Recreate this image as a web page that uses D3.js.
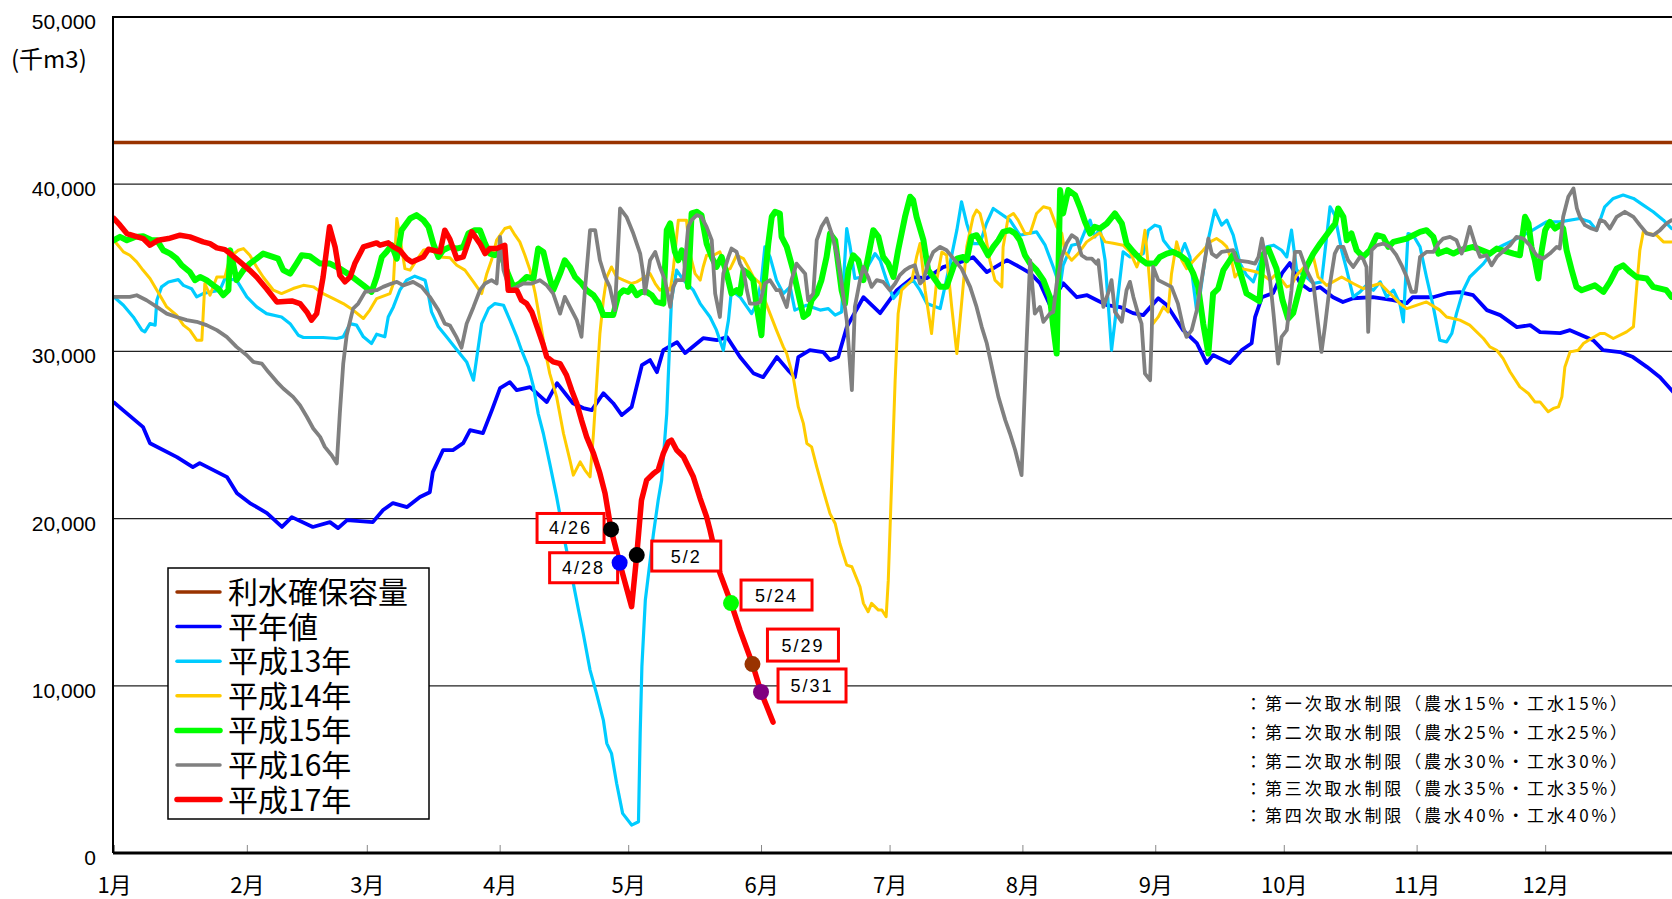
<!DOCTYPE html>
<html>
<head>
<meta charset="utf-8">
<script src="https://cdn.jsdelivr.net/npm/d3@7"></script>
<style>
	body { margin: 0; background: #fff; }
	svg { display: block; }
</style>
</head>
<body>
<svg id="chart" width="1672" height="899"></svg>
<script>
// storage volume (千m3), points are [day of year, value]
const capacity = 42500;

const normalData = [[0,26950],[2.1,26490],[6.8,25470],[8.4,24510],[14.7,23680],[18.4,23080],[20,23320],[26.4,22480],[28.7,21520],[31.7,20930],[35.7,20330],[39.2,19500],[41.5,20090],[46.4,19500],[50.4,19790],[52.3,19430],[54.4,19910],[60.4,19790],[62.8,20510],[65.1,20930],[68.4,20690],[71.4,21290],[73.7,21580],[74.4,22780],[76.8,24100],[79.1,24100],[81.5,24510],[83.1,25290],[86.1,25110],[88.2,26490],[90.1,27800],[92.4,28160],[94,27680],[97.1,27860],[101,26970],[103.4,28100],[107.1,26900],[109.5,26610],[111.5,26490],[114.2,27500],[116.5,26900],[118.5,26190],[120.8,26670],[123.2,29180],[125.1,29480],[126.7,28760],[128.2,30080],[131.4,30550],[133.3,29900],[137.5,30790],[140.7,30670],[143.1,30850],[146.1,29660],[149.2,28700],[151.5,28460],[154.7,29660],[157.3,28880],[158.9,28460],[159.7,29660],[162.4,30080],[165.5,29960],[167.1,29480],[169,29660],[171,31450],[174.9,33240],[178.8,32290],[182.7,33660],[186.5,34440],[189.7,34380],[193.5,35040],[199,35460],[200.5,35640],[203.7,34740],[208.4,35460],[211.4,35040],[213.8,34680],[216.1,34080],[218.4,32770],[221.5,34080],[224.7,33240],[227.1,33360],[229.4,33060],[231.7,32770],[234.8,32650],[237.8,32290],[240.2,32170],[243.7,33180],[245.7,32770],[249.5,31270],[252.7,30490],[255,29300],[256.5,29780],[260.4,29300],[263.2,30080],[265.5,30490],[266.3,32050],[267.9,33240],[270.5,33480],[272.6,34680],[274.4,35280],[276.8,34080],[279.1,33660],[281.5,33840],[284.5,33240],[286.8,32950],[289.2,33180],[293.8,33240],[298.5,33060],[301.7,32890],[303.1,33240],[307.8,33240],[311.1,33480],[314.1,33540],[317.2,33360],[320.4,32470],[323.5,32170],[327.4,31450],[330.5,31570],[332.8,31150],[337.5,31090],[339.8,31270],[345.2,30670],[347.5,30080],[351.5,29960],[354.5,29660],[357.8,29060],[360.8,28460],[363.1,27800],[364.5,27400]];

const h13Data = [[0,33260],[2.2,32760],[4.5,32060],[6.5,31270],[7.2,31170],[8.4,31660],[9.6,31570],[10,33060],[11.1,33860],[12.7,34150],[15,34290],[16.2,33950],[18.1,33750],[19.3,33260],[20.8,33460],[24.7,33660],[25.9,34360],[28.6,34260],[31,33260],[33.3,32660],[35.6,32260],[39.1,32060],[41.1,31660],[43,30970],[44.2,30830],[48.8,30830],[52,30770],[53.5,30870],[55.1,31660],[56.6,31570],[58.2,30870],[60.1,30470],[61.3,31030],[63.2,30870],[64,32060],[65.2,32660],[66.7,33660],[68.3,34260],[70.2,34500],[72.6,34260],[73.4,33360],[74.1,32360],[75.7,31470],[77.6,30870],[80.7,29870],[82.3,29370],[83.9,28280],[85.8,31660],[87.4,32560],[88.9,32860],[90.9,32760],[92.4,31870],[94,30870],[95.1,30070],[96.7,29070],[97.9,27880],[99,26280],[100.2,25090],[101.7,23290],[103.3,21300],[105.3,18520],[107.2,16110],[108.4,14530],[109.5,13140],[111.1,10940],[112.6,9550],[114.2,7950],[115,6560],[116.1,5960],[117.3,4170],[118.7,2370],[120.8,1670],[122.4,1870],[122.8,7170],[123.2,11160],[124,15130],[125.9,19110],[127,21100],[127.8,22300],[129,26280],[129.8,31270],[130.1,33060],[131.3,34860],[132.9,34260],[135.2,33660],[136.8,32860],[139.1,32060],[140.6,31270],[142.2,30070],[143.4,31870],[144.1,33660],[146.1,33260],[148.8,32260],[150,32860],[151.1,34260],[151.9,36250],[153.1,35650],[154.6,34260],[156.2,33460],[157.8,33860],[158.9,32470],[161.6,32760],[164.8,32470],[166.7,32560],[168.3,32170],[169.8,32360],[171,37350],[171.8,36250],[172.9,34360],[174.5,34450],[177.6,35850],[178.8,35450],[180.3,34260],[181.9,33160],[184.2,33860],[186.5,34260],[188.1,33660],[189.7,32860],[192.8,32560],[195.1,35250],[196.7,37250],[197.8,38950],[199,37650],[200.5,36450],[202.1,36450],[203.6,37650],[205.2,38550],[209.1,37850],[211.4,36950],[215.3,37150],[217.3,36350],[219.2,35050],[220.8,33860],[221.5,35150],[223.5,36350],[225.4,36450],[227,37450],[227.8,37850],[228.9,36850],[230.1,37350],[231.3,35450],[232.8,30070],[234,32660],[235.5,35950],[237.1,35650],[240.2,35850],[241.4,37250],[242.9,37550],[244.1,37450],[244.9,36650],[246.4,36150],[248.8,35750],[249.9,36450],[251.1,35650],[252.7,32360],[253.4,33260],[255,36250],[256.9,38450],[258.5,37550],[259.7,37850],[261.2,36950],[262.8,35250],[264.3,34560],[265.9,34160],[267.5,35350],[269,36250],[270.6,36350],[272.5,36050],[273.7,35650],[274.8,37250],[276,34860],[278.3,34450],[279.9,34060],[281.8,34160],[283.8,38650],[284.9,38150],[286.5,36050],[287.7,34860],[289.2,33260],[290.8,33560],[292.3,33960],[293.9,33660],[295.5,34160],[297,33260],[298.6,33660],[300.1,32860],[300.9,31770],[302,37050],[303.2,36950],[304.8,36250],[306.3,34450],[307.9,32660],[309.4,30670],[311,30570],[312.2,31070],[313.3,32260],[314.9,33660],[316.4,34450],[319.6,35250],[321.9,36050],[324.2,36350],[326.6,36650],[330.4,37150],[334.3,37750],[337.4,37750],[342.1,37950],[344.4,37750],[346,37250],[347.9,38650],[349.9,39150],[352.2,39350],[354.6,39150],[356.9,38750],[359.2,38350],[361.6,37850],[363.5,37350]];

const h14Data = [[0,36650],[0.6,36450],[2.2,35950],[3.7,35750],[5.3,35350],[6.8,34850],[8.4,34360],[10.7,33360],[12.3,32660],[14.6,32170],[16.2,31570],[17.7,31270],[19.3,30670],[20.5,30670],[21.2,34060],[22.4,33360],[24,34450],[25.9,34450],[27.1,35650],[29,36050],[30.2,36150],[31.7,35750],[33.3,35050],[34.8,34450],[37.2,33660],[39.1,33460],[41.8,33760],[44.2,33950],[46.5,33860],[48.8,33460],[51.2,33160],[53.5,32860],[55.8,32470],[58.2,31970],[59.7,32470],[61.3,33160],[64.4,33460],[65.2,34060],[66,37950],[66.7,36850],[67.9,34950],[69.1,34860],[70.6,35450],[72.2,36050],[73.7,36150],[76.1,35650],[78.4,35600],[80,35150],[81.9,34860],[83.9,34160],[85.8,33460],[87,34650],[88.1,35450],[89.3,36650],[91.2,37350],[92.4,37450],[93.6,36950],[94.7,36550],[95.9,35750],[97.1,34860],[98.3,33460],[99.4,31870],[100.6,30070],[101.7,28670],[103.3,27280],[104.9,25090],[106.4,23500],[107.2,22600],[108.8,23390],[109.9,22900],[111.1,22500],[111.9,25090],[112.7,28280],[113.4,31070],[114.2,33060],[115,34450],[116.1,35050],[117.3,34450],[118.9,34260],[120.8,34060],[122,34160],[123.9,34450],[125.1,34650],[126.3,34060],[127.4,33660],[128.6,33860],[129.8,33660],[130.5,34860],[131.7,37850],[133.6,37850],[134.4,35850],[135.6,34650],[136.8,34260],[137.5,35050],[138.3,35750],[139.9,35750],[141.4,35950],[143,34860],[143.8,34950],[145.3,35750],[146.9,35550],[148,35050],[149.2,34450],[150.8,34060],[151.9,33060],[153.1,32260],[154.6,31270],[156.2,30270],[157,29870],[158.5,28480],[159.7,26680],[160.9,25680],[161.7,24490],[162.8,24290],[164,23090],[165.5,21700],[167.1,20300],[168.3,19710],[169.4,18510],[171,17220],[172.2,17120],[174.1,15920],[174.9,14930],[176,14430],[176.8,14930],[178.4,14530],[179.2,14530],[180.2,14130],[180.7,16320],[181.5,22300],[182.3,28280],[183,32260],[183.8,33660],[185.4,34060],[186.2,34260],[187.3,35650],[188.1,36450],[189.3,33660],[190.8,31070],[192,34260],[193.2,35950],[194.3,35750],[195.5,32660],[196.7,29870],[197.8,32860],[199,36250],[200.5,38050],[201.3,38450],[202.1,38250],[203.3,37050],[204.4,35450],[205.6,34260],[207.2,33860],[207.5,36250],[208.7,38050],[209.9,38250],[211,37850],[212.6,37050],[213.8,37050],[215.3,38250],[216.9,38650],[218.4,38550],[220,37450],[221.2,37050],[221.9,35950],[223.5,35450],[225,35850],[227,36550],[230.1,37100],[231.3,36550],[233.2,36470],[235.5,36350],[237.1,35950],[238.7,35050],[239.8,35850],[240.6,37250],[241.4,35050],[242.5,31660],[243.7,32060],[244.9,32660],[246,32360],[246.8,34650],[248,36550],[249.2,35450],[250.3,34950],[252.7,35650],[254.2,36050],[255.8,36550],[257.3,36750],[258.5,36550],[259.7,36250],[260.8,35450],[261.6,34450],[263.2,34950],[266.7,34750],[268.2,34560],[269.8,34260],[270.9,34560],[272.5,34260],[273.7,33860],[274.8,33950],[276,34560],[279.9,35650],[281,34450],[283,33950],[286.5,34450],[289.2,34060],[291.5,33760],[295.5,34060],[297.8,33460],[300.1,32860],[301.7,32560],[306.3,32960],[309.4,32470],[311,32060],[314.1,31870],[316.4,31570],[319.6,30770],[321.1,30270],[322.7,30070],[324.2,29570],[325.8,28780],[328.1,27880],[330.1,27480],[331.6,26980],[332.8,26980],[334.7,26390],[335.9,26590],[337.1,26680],[337.9,27280],[338.6,29070],[339.8,29970],[341.7,30070],[342.9,30470],[344.8,30770],[346.8,31070],[347.9,31070],[349.9,30770],[353,31170],[354.6,31470],[355.3,33660],[356.1,36050],[356.9,37150],[360,36950],[361.6,36550],[363.5,36550]];

const h15Data = [[0,36650],[1.4,36850],[3,36650],[4.9,36850],[6.8,36890],[8.8,36650],[10,36650],[11.5,36050],[13.1,35850],[14.6,35550],[15.8,35150],[17.7,34750],[18.9,34260],[20.1,34450],[21.6,34260],[23.2,33950],[24.3,33750],[25.5,33360],[26.7,33660],[27.1,36050],[27.8,35250],[28.6,34260],[30.2,34860],[31.7,35250],[33.3,35550],[34.8,35850],[38.3,35550],[39.5,34860],[41.1,34650],[42.6,35250],[43.8,35750],[45.7,35690],[48.1,35250],[50.4,35250],[52.7,34950],[55.1,34560],[56.6,34260],[58.2,33950],[60.1,33560],[61.3,34450],[62.5,35650],[63.6,35950],[64.8,36350],[66,35550],[67.1,37250],[69.1,37950],[70.6,38150],[72.2,37850],[73.4,37450],[74.5,36450],[75.7,35650],[76.8,36050],[78.4,36250],[80,36150],[81.5,36250],[82.7,37050],[84.2,37250],[85.4,37250],[86.6,36450],[87.7,35850],[88.9,35750],[90.1,35950],[91.6,34860],[93.2,33860],[94.7,34060],[96.3,34450],[97.9,34360],[99,36150],[100.2,35950],[101.4,34650],[102.5,33660],[104.1,34650],[105.2,35450],[106.4,35050],[107.6,34450],[109.1,34060],[110.3,33660],[111.9,33360],[113,32960],[114.2,32170],[116.5,32170],[117.7,33360],[118.9,33660],[120,33560],[120.8,33860],[122,33360],[123.1,33560],[124.3,33560],[125.5,33360],[126.6,32960],[128.2,32860],[129,37250],[129.8,37650],[130.9,35950],[131.7,35450],[132.5,36050],[133.3,35450],[134,33860],[134.8,38250],[136,38350],[137.1,38150],[138.3,36450],[139.5,35650],[140.6,35050],[141.8,35650],[143,34650],[144.1,33460],[145.3,33660],[146.1,33460],[146.9,34860],[148,34650],[149.2,34260],[150,32660],[151.1,30970],[151.9,34260],[152.7,36450],[153.5,38050],[154.3,38350],[155.4,38250],[155.8,36850],[157,36250],[158.5,34860],[159.7,33460],[160.9,32060],[162,32260],[162.8,33060],[164,33460],[165.1,34260],[166.3,35650],[167.1,37050],[168.3,36650],[169,35250],[169.8,33660],[170.6,32860],[171.4,34860],[172.5,35750],[173.7,35450],[174.9,34260],[176,35650],[177.2,37250],[178.4,36850],[179.5,35650],[180.7,35250],[181.9,34450],[183,36050],[184.6,38050],[185.8,39250],[186.5,39050],[187.3,38050],[188.9,36650],[190,34860],[191.2,34450],[192.8,33860],[194.3,33860],[195.9,35050],[196.7,35550],[198.2,35650],[199,35450],[200.1,36850],[201.3,36950],[202.5,36450],[204,35750],[205.2,36250],[206.4,36650],[207.5,37150],[209.1,37250],[210.3,37050],[211.4,36650],[212.6,35750],[213.8,35250],[215.3,34860],[216.9,34260],[218.4,33260],[219.2,31470],[220,29870],[220.8,39650],[221.5,38250],[222.7,39650],[224.3,39350],[225.4,38650],[226.6,37750],[227.8,37050],[228.9,37450],[230.1,37350],[231.7,37650],[233.6,38250],[235.2,37650],[236.3,36450],[237.9,35950],[239.4,35550],[241,35250],[242.9,35250],[244.1,35650],[245.7,35850],[247.2,35950],[248.8,35750],[250.3,35450],[251.9,34650],[253,33860],[254.2,31660],[255.4,29870],[256.5,33460],[257.7,33760],[258.9,34860],[260.4,35450],[261.4,35850],[262.8,34760],[264.3,33460],[267.3,33000],[268.2,35800],[269.4,36150],[271.3,34950],[272.7,33060],[274,31960],[275.2,32300],[276.8,33900],[278.3,35050],[279.9,35850],[281.5,36450],[283.8,37250],[285,37650],[285.7,38550],[286.9,38050],[287.7,36650],[288.8,37050],[290,36050],[291.5,35650],[293.1,36050],[294.7,36950],[296.2,36850],[297.4,36250],[298.6,36550],[301.7,36750],[304.8,37150],[306.3,37250],[307.9,36850],[309.1,35850],[311,36050],[312.6,35850],[314.1,36050],[317.2,36250],[321.1,35850],[322.7,36150],[326.6,35850],[328.1,35750],[329.3,38050],[330.1,37650],[330.8,36250],[331.6,35450],[332.4,34360],[333.2,36050],[334,37250],[335.1,37750],[336.3,37350],[337.5,37550],[338.2,37350],[339,36050],[340.2,34860],[341.3,33860],[342.5,33660],[345.6,33950],[347.6,33560],[349.1,34160],[350.7,34950],[352.2,35150],[353.8,34750],[355.3,34450],[357.7,34360],[359.2,33860],[362.3,33660],[363.5,33260]];

const h16Data = [[0,33260],[3.7,33260],[5.3,33360],[7.6,33060],[10,32660],[12.3,32260],[14.6,32060],[17,31870],[19.3,31770],[21.6,31570],[24,31270],[26.3,30870],[28.6,30270],[31,29770],[32.5,29370],[34.5,29270],[36,28780],[38,28180],[39.5,27780],[41.8,27280],[43.4,26780],[45,26090],[46.5,25390],[48.1,24890],[49.2,24290],[50.8,23790],[52,23300],[52.7,26280],[53.5,29270],[54.3,30970],[55.8,32560],[57,32860],[58.6,33560],[61.3,33660],[62.8,33860],[64.8,34060],[66,34160],[67.5,33950],[69.8,34160],[71.8,33860],[73.7,33260],[75.7,32470],[77.2,31660],[78.4,31550],[80,30820],[81.1,30220],[82.3,31660],[83.9,32660],[85.4,33660],[86.6,34060],[88.1,34260],[89.3,34060],[90.1,36850],[90.9,34860],[92.4,33660],[94,33860],[95.5,34060],[97.5,34060],[99.4,34260],[101,33950],[102.5,33460],[104.1,32260],[105.2,33260],[106.4,32660],[108,31870],[109.1,30870],[109.9,33660],[111.1,37250],[112.3,37250],[113.4,35450],[114.6,34450],[115.7,33860],[116.9,32470],[118.1,38550],[119.6,38050],[121.2,37050],[122.8,35850],[123.5,34650],[123.9,33460],[125.1,35450],[126.3,35950],[127.4,35050],[128.6,34260],[129.8,32660],[130.5,33860],[131.3,34260],[132.9,34260],[134,37450],[134.8,37850],[136,38150],[137.1,38050],[138.3,37450],[139.5,36650],[140.3,33460],[141.4,32060],[142.2,34650],[143.4,35650],[144.1,36150],[145.3,35950],[146.1,35250],[146.9,34860],[147.7,33660],[148.4,32860],[150,32860],[150.8,32960],[151.9,34060],[153.1,34260],[154.6,33660],[155.4,33660],[157,32660],[158.1,34260],[159.3,35250],[161.3,34650],[162,33060],[163.2,33460],[164,36650],[165.1,37450],[166.3,37950],[167.5,37050],[168.7,35850],[169.8,34060],[171,31870],[172.2,27680],[172.9,32660],[174.1,34260],[174.9,35050],[176,34450],[176.8,33860],[178,34260],[179.5,34160],[181.1,33660],[182.3,34060],[183.4,34560],[184.6,34860],[185.8,35050],[186.9,35150],[188.1,34060],[188.9,34260],[190,35250],[191.2,35950],[192.8,36250],[194.3,36050],[195.9,35550],[197.8,34950],[199.8,33860],[201.3,32660],[202.5,31470],[203.7,30470],[205.2,28670],[206.4,27280],[208,25890],[209.1,25090],[210.3,24100],[211.8,22600],[213,30670],[213.8,35450],[214.9,32260],[216.1,32660],[216.9,31770],[218.4,32260],[219.2,32360],[220,34060],[221.2,35650],[222.3,36450],[223.5,36950],[224.7,36750],[225.8,35750],[227,35550],[228.2,35550],[229.3,35250],[229.7,35450],[230.9,32660],[232.1,33560],[232.8,34260],[233.6,32360],[235.2,31770],[236.3,33660],[237.1,34160],[237.9,33260],[239,32260],[239.8,31660],[240.6,28670],[241.8,28280],[242.2,31270],[242.5,35050],[243.7,34260],[246.8,33860],[248.3,32860],[249.5,31470],[250.3,30870],[251.5,31270],[252.7,32470],[253.8,34260],[255.4,36750],[256.2,35850],[257.3,35650],[258.5,35950],[261.2,36050],[262,35450],[264.7,35350],[266.3,35250],[267.1,35650],[267.9,36750],[268.7,35650],[269.8,34260],[270.6,32260],[271.7,29270],[272.5,30870],[273.7,31270],[274.8,33660],[275.6,35950],[276.8,35950],[278.3,34860],[279.9,34060],[281,31660],[281.8,29970],[282.6,31470],[283.8,34060],[284.9,35850],[285.7,36250],[286.9,36250],[288,35450],[289.2,35050],[290.8,35650],[291.5,35550],[292.3,35050],[292.7,31170],[293.5,36050],[294.7,36350],[296.2,36450],[297.8,36250],[299.3,35750],[300.5,35150],[301.7,34450],[302.8,33560],[303.8,33560],[304.8,35650],[306.3,35950],[307.9,35950],[309.1,36450],[310.2,36750],[311.8,36850],[313.3,36650],[314.5,35850],[315.3,36350],[316.4,37450],[317.6,36450],[318.8,35650],[320.3,35750],[321.5,35150],[322.7,35650],[325.8,36350],[327.3,36850],[328.9,36750],[330.4,36350],[332,35750],[333.5,35550],[335.1,35850],[336.7,36250],[337.4,36150],[338.2,38050],[339.4,39250],[340.6,39750],[341.4,38550],[342.1,38050],[343.3,37550],[344.8,37350],[346,37250],[346.8,37850],[347.9,37750],[349.1,37350],[350.7,38050],[352.6,38350],[354.6,38050],[356.1,37550],[357.7,37050],[359.2,36950],[360.8,37250],[362.3,37650],[363.5,37850]];

const h17Data = [[0,37950],[1.4,37550],[3,37050],[6.8,36750],[8.4,36350],[10.3,36650],[12.7,36750],[15.4,36950],[17.7,36850],[20.8,36550],[22.4,36450],[24,36190],[25.9,36090],[27.1,35850],[29.4,35350],[31.7,34850],[33.3,34450],[35.6,33750],[38,32960],[41.5,33020],[43.4,32860],[45,32360],[46.1,31870],[47.3,32260],[48.8,34450],[50.3,37450],[51.6,36250],[52.7,34550],[53.9,34160],[55.1,34450],[56.2,35250],[58.2,36250],[61.3,36490],[62.1,36350],[64,36490],[65.2,36250],[66.7,36050],[68.3,35550],[69.5,35350],[72.2,35650],[73.4,36110],[76.1,35950],[77.2,37250],[78.4,36700],[80,35550],[81.5,35650],[83.5,37150],[85.4,36450],[86.6,35850],[87.7,36150],[89.3,36150],[91.2,36350],[92,33660],[94,33660],[95.1,33060],[96.3,32860],[97.5,32360],[99,31270],[100.2,30370],[101,29670],[102.5,29370],[104.1,29270],[105.6,28580],[106.8,27680],[108,26890],[109.1,25890],[110.3,24890],[111.9,23900],[113.4,22700],[114.6,21510],[116,19350],[118,17360],[120.8,14730],[122,17820],[123.1,21100],[124.3,22300],[125.9,22700],[127,22900],[128.2,23900],[129.4,24590],[130.1,24690],[131.3,24100],[132.9,23700],[135.2,22500],[136.8,21200],[138.3,20100],[139.1,19310],[141.4,16740],[144,14950],[146.1,13330],[149,11300],[151,9630],[153.8,7830]];

// restriction dates on the 平成17年 line: [label, day, value]
const markers = [["4/26",116,19350],["4/28",118,17360],["5/2",122,17820],["5/24",144,14950],["5/29",149,11300],["5/31",151,9630]];
const markerColors = ["#000000","#0000ff","#000000","#00ff00","#993300","#800080"];
// label box placement relative to the dot: [dx, dy, width, height]
const markerBoxes = [[-74,-16,67,29],[-70,-10,68,30],[15,-14,69,30],[10,-23,71,30],[15,-35,71,32],[17,-23,68,33]];

const monthDays = [0,31,59,90,120,151,181,212,243,273,304,334];
const monthLabels = ["1月","2月","3月","4月","5月","6月","7月","8月","9月","10月","11月","12月"];
const yTicks = [0,10000,20000,30000,40000,50000];
const gridTicks = [10000,20000,30000,40000];

const legendNames = ["利水確保容量","平年値","平成13年","平成14年","平成15年","平成16年","平成17年"];
const notes = [
	"：第一次取水制限（農水15%・工水15%）",
	"：第二次取水制限（農水25%・工水25%）",
	"：第二次取水制限（農水30%・工水30%）",
	"：第三次取水制限（農水35%・工水35%）",
	"：第四次取水制限（農水40%・工水40%）"
];

const colors = ["#993300","#0000ff","#00ccff","#ffcc00","#00ff00","#808080","#ff0000"];
const widths = [3.5,3.8,3.2,3,6,3.8,5.5];

const W = 1672, H = 899;
const plotLeft = 113, plotTop = 17, plotBottom = 853;
const latin = "'Liberation Sans', Arial, sans-serif";
const cjk = "'Noto Sans CJK JP', 'Noto Sans', sans-serif";

const svg = d3.select("#chart");
svg.append("rect").attr("width", W).attr("height", H).attr("fill", "#fff");

const x = d3.scaleLinear().domain([0, 365]).range([114, 1678]);
const y = d3.scaleLinear().domain([0, 50000]).range([plotBottom, plotTop]);

// gridlines
svg.append("g")
	.selectAll("line")
	.data(gridTicks)
	.join("line")
	.attr("x1", plotLeft).attr("x2", W)
	.attr("y1", d => y(d)).attr("y2", d => y(d))
	.attr("stroke", "#222").attr("stroke-width", 1.2);

svg.append("line")
	.attr("x1", plotLeft).attr("x2", W)
	.attr("y1", y(50000)).attr("y2", y(50000))
	.attr("stroke", "#000").attr("stroke-width", 2);

// y axis labels
const yAxis = svg.append("g")
	.attr("transform", `translate(${plotLeft},0)`)
	.call(d3.axisLeft(y).tickValues(yTicks).tickFormat(d3.format(",")).tickSize(0).tickPadding(17));
yAxis.select(".domain").remove();
yAxis.selectAll("text")
	.attr("dy", "0.55em")
	.style("font-family", latin)
	.style("font-size", "21px")
	.attr("fill", "#000");

svg.append("text")
	.attr("x", 11).attr("y", 68)
	.style("font-family", cjk)
	.style("font-size", "24px")
	.text("(千m3)");

// x axis
const xAxis = svg.append("g")
	.attr("transform", `translate(0,${plotBottom})`)
	.call(d3.axisBottom(x).tickValues(monthDays).tickFormat((d, i) => monthLabels[i]).tickSize(-8).tickPadding(0));
xAxis.select(".domain").remove();
xAxis.selectAll(".tick line").attr("stroke", "#888");
xAxis.selectAll("text")
	.attr("y", 40).attr("dy", 0)
	.style("font-family", cjk)
	.style("font-size", "22px")
	.attr("fill", "#000");

// series
svg.append("defs").append("clipPath").attr("id", "plotclip")
	.append("rect").attr("x", plotLeft).attr("y", plotTop - 5).attr("width", W - plotLeft).attr("height", plotBottom - plotTop + 5);

const line = d3.line().x(d => x(d[0])).y(d => y(d[1]));
const series = [[[0, capacity], [365, capacity]], normalData, h13Data, h14Data, h15Data, h16Data, h17Data];

const plot = svg.append("g").attr("clip-path", "url(#plotclip)");
plot.selectAll("path")
	.data(series)
	.join("path")
	.attr("d", line)
	.attr("fill", "none")
	.attr("stroke", (d, i) => colors[i])
	.attr("stroke-width", (d, i) => widths[i])
	.attr("stroke-linejoin", "round")
	.attr("stroke-linecap", "round");

// axis lines on top
svg.append("line")
	.attr("x1", plotLeft).attr("x2", plotLeft).attr("y1", plotTop - 1).attr("y2", plotBottom)
	.attr("stroke", "#000").attr("stroke-width", 2);
svg.append("line")
	.attr("x1", plotLeft).attr("x2", W).attr("y1", plotBottom).attr("y2", plotBottom)
	.attr("stroke", "#000").attr("stroke-width", 3);

// restriction markers
const mk = svg.append("g");
markers.forEach(([label, day, value], i) => {
	const cx = x(day), cy = y(value);
	const [dx, dy, bw, bh] = markerBoxes[i];
	mk.append("rect")
		.attr("x", cx + dx).attr("y", cy + dy)
		.attr("width", bw).attr("height", bh)
		.attr("fill", "#fff").attr("stroke", "#ff0000").attr("stroke-width", 3);
	mk.append("text")
		.attr("x", cx + dx + bw / 2).attr("y", cy + dy + bh / 2 + 6.5)
		.attr("text-anchor", "middle")
		.style("font-family", latin)
		.style("font-size", "18px")
		.style("letter-spacing", "2px")
		.text(label);
	mk.append("circle")
		.attr("cx", cx).attr("cy", cy).attr("r", 8)
		.attr("fill", markerColors[i]);
});

// legend
const legend = svg.append("g").attr("transform", "translate(168,568)");
legend.append("rect")
	.attr("width", 261).attr("height", 251)
	.attr("fill", "#fff").attr("stroke", "#000").attr("stroke-width", 1.5);
legendNames.forEach((name, i) => {
	const cy = 24 + i * 34.6;
	legend.append("line")
		.attr("x1", 9).attr("x2", 52).attr("y1", cy).attr("y2", cy)
		.attr("stroke", colors[i]).attr("stroke-width", i === 4 || i === 6 ? 5.5 : 3.5)
		.attr("stroke-linecap", "round");
	legend.append("text")
		.attr("x", 60).attr("y", cy + 11)
		.style("font-family", cjk)
		.style("font-size", "30px")
		.text(name);
});

// restriction notes
const noteY = [710, 739, 768, 795, 822];
svg.append("g")
	.selectAll("text")
	.data(notes)
	.join("text")
	.attr("x", 1245)
	.attr("y", (d, i) => noteY[i])
	.style("font-family", cjk)
	.style("font-size", "17px")
	.style("letter-spacing", "2.9px")
	.text(d => d);
</script>
</body>
</html>
